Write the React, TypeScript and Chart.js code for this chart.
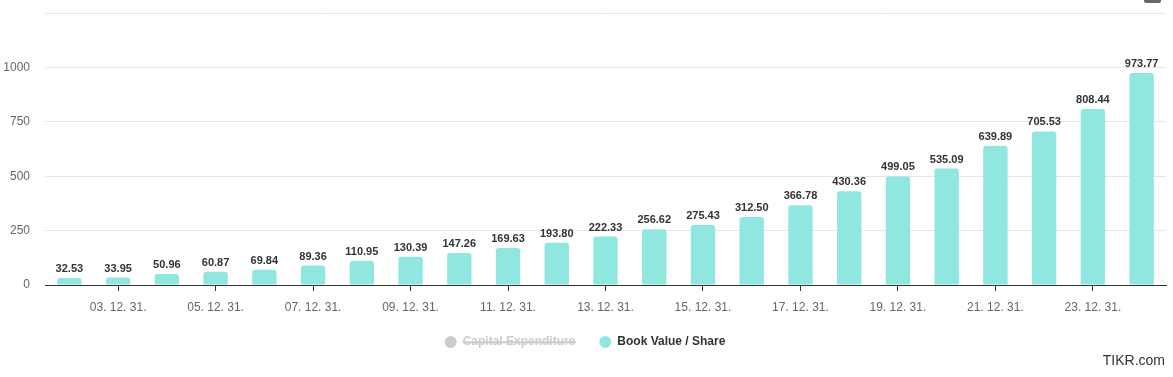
import React, { useEffect, useLayoutEffect, useRef } from 'react';
import { Chart, registerables } from 'chart.js';

Chart.register(...registerables);

const categories = [
  '02. 12. 31.', '03. 12. 31.', '04. 12. 31.', '05. 12. 31.', '06. 12. 31.', '07. 12. 31.',
  '08. 12. 31.', '09. 12. 31.', '10. 12. 31.', '11. 12. 31.', '12. 12. 31.', '13. 12. 31.',
  '14. 12. 31.', '15. 12. 31.', '16. 12. 31.', '17. 12. 31.', '18. 12. 31.', '19. 12. 31.',
  '20. 12. 31.', '21. 12. 31.', '22. 12. 31.', '23. 12. 31.', '24. 12. 31.',
];

const bookValuePerShare = [
  32.53, 33.95, 50.96, 60.87, 69.84, 89.36, 110.95, 130.39, 147.26, 169.63, 193.8, 222.33,
  256.62, 275.43, 312.5, 366.78, 430.36, 499.05, 535.09, 639.89, 705.53, 808.44, 973.77,
];

const capitalExpenditure: number[] = [];

const yTickValues = [0, 250, 500, 750, 1000];
const yMax = 1250;

const FONT = "'Liberation Sans', Arial, Helvetica, sans-serif";
const BAR_COLOR = '#90e7df';

const dataLabelPlugin = {
  id: 'dataLabels',
  afterDatasetsDraw(chart: any) {
    const ctx = chart.ctx;
    ctx.save();
    ctx.font = `bold 11px ${FONT}`;
    ctx.fillStyle = '#333333';
    ctx.textAlign = 'center';
    ctx.textBaseline = 'alphabetic';
    chart.data.datasets.forEach((ds: any, di: number) => {
      if (!chart.isDatasetVisible(di)) return;
      const meta = chart.getDatasetMeta(di);
      meta.data.forEach((el: any, i: number) => {
        const v = ds.data[i];
        if (v == null) return;
        ctx.fillText(Number(v).toFixed(2), el.x, el.y - 6);
      });
    });
    ctx.restore();
  },
};

export default function App() {
  const ref = useRef<HTMLCanvasElement | null>(null);

  useLayoutEffect(() => {
    document.body.style.margin = '0';
  }, []);

  useEffect(() => {
    if (!ref.current) return;
    const chart = new Chart(ref.current, {
      type: 'bar',
      data: {
        labels: categories,
        datasets: [
          {
            label: 'Capital Expenditure',
            data: capitalExpenditure,
            backgroundColor: '#cccccc',
            hidden: true,
          },
          {
            label: 'Book Value / Share',
            data: bookValuePerShare,
            backgroundColor: BAR_COLOR,
            borderRadius: 3,
            barPercentage: 0.5,
            categoryPercentage: 1,
          },
        ],
      },
      options: {
        responsive: false,
        animation: false,
        devicePixelRatio: 1,
        layout: { padding: { top: 13, right: 3, left: 0, bottom: 19 } },
        plugins: {
          tooltip: { enabled: false },
          legend: {
            position: 'bottom',
            onClick: () => {},
            labels: {
              usePointStyle: true,
              pointStyle: 'circle',
              pointStyleWidth: 12,
              boxHeight: 8.5,
              padding: 24,
              font: { family: FONT, size: 12, weight: 'bold' },
              generateLabels: (chart: any) =>
                chart.data.datasets.map((ds: any, i: number) => {
                  const hidden = !chart.isDatasetVisible(i);
                  return {
                    text: ds.label,
                    fillStyle: hidden ? '#cccccc' : ds.backgroundColor,
                    strokeStyle: 'transparent',
                    lineWidth: 0,
                    hidden,
                    fontColor: hidden ? '#cccccc' : '#333333',
                    pointStyle: 'circle',
                    datasetIndex: i,
                  };
                }),
            },
          },
        },
        scales: {
          x: {
            offset: true,
            grid: {
              offset: false,
              drawOnChartArea: false,
              drawTicks: true,
              tickLength: 6,
              tickColor: (c: any) => (c.index % 2 === 1 ? '#333333' : 'rgba(0,0,0,0)'),
              color: 'rgba(0,0,0,0)',
            },
            border: { display: true, color: '#333333', width: 1 },
            ticks: {
              autoSkip: false,
              maxRotation: 0,
              padding: 9,
              color: '#666666',
              font: { family: FONT, size: 12 },
              callback: (_v: any, i: number) => (i % 2 === 1 ? categories[i] : ''),
            },
            afterFit: (s: any) => {
              s.height = 27;
              s.paddingLeft = 0;
              s.paddingRight = 7;
            },
          },
          y: {
            min: 0,
            max: yMax,
            grid: { color: '#e6e6e6', drawTicks: false },
            border: { display: false },
            afterBuildTicks: (s: any) => {
              s.ticks = [...yTickValues, yMax].map((v) => ({ value: v }));
            },
            ticks: {
              padding: 15,
              color: '#666666',
              font: { family: FONT, size: 12 },
              callback: (v: any) => (yTickValues.includes(Number(v)) ? String(v) : ''),
            },
            afterFit: (s: any) => {
              s.width = 45;
              s.paddingTop = 0;
              s.paddingBottom = 0;
            },
          },
        },
      },
      plugins: [dataLabelPlugin],
    } as any);
    return () => chart.destroy();
  }, []);

  return (
    <div style={{ position: 'relative', width: 1173, height: 377, background: '#ffffff' }}>
      <canvas ref={ref} width={1173} height={377} style={{ display: 'block', width: 1173, height: 377 }} />
      <div
        style={{
          position: 'absolute',
          left: 1144,
          top: 0,
          width: 17,
          height: 3,
          background: '#666666',
          borderRadius: '0 0 2px 2px',
        }}
      />
      <div
        style={{
          position: 'absolute',
          right: 8,
          top: 351,
          fontFamily: FONT,
          fontSize: 14,
          color: '#333333',
          lineHeight: '18px',
        }}
      >
        TIKR.com
      </div>
    </div>
  );
}
